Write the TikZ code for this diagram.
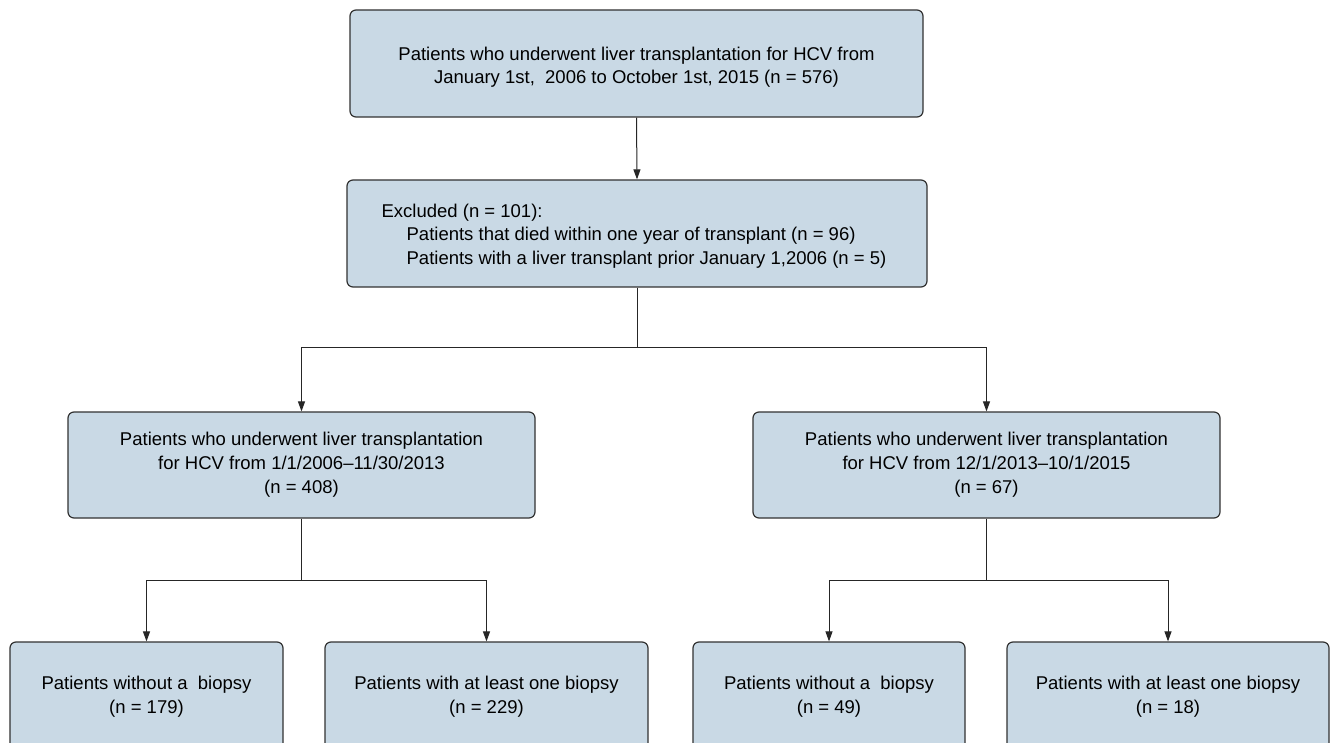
\documentclass[tikz,border=0pt]{standalone}
\usepackage{fontspec}
\setmainfont{Liberation Sans}
\usetikzlibrary{arrows.meta}
\definecolor{boxfill}{RGB}{201,217,229}
\definecolor{boxline}{RGB}{50,50,50}
\begin{document}
\begin{tikzpicture}[x=1pt,y=-1pt,
  box/.style={draw=boxline, fill=boxfill, rounded corners=6pt, line width=1.2pt,
    align=center, inner sep=0pt, font=\fontsize{18.5}{24}\selectfont},
  txt/.style={align=center, inner sep=0pt, font=\fontsize{18.5}{23.5}\selectfont},
  arr/.style={-{Triangle[length=10pt,width=7pt]}, line width=1pt, draw=black!85},
  conn/.style={line width=1pt, draw=black!85}]
\useasboundingbox (0,0) rectangle (1331,743);
\clip (0,0) rectangle (1331,743);
\fill[white] (0,0) rectangle (1331,743);

\node[box, minimum width=573pt, minimum height=107pt] (top) at (636.5,63.5) {};
\node[txt] (toptxt) at (636.5,67)
  {Patients who underwent liver transplantation for HCV from\\January 1st,\ \ 2006 to October 1st, 2015 (n = 576)};

\node[box, minimum width=580pt, minimum height=107pt] (excl) at (637,233.5) {};
\node[txt, align=left] (excltxt) at (634,236)
  {Excluded (n = 101):\\
   \hspace*{25pt}Patients that died within one year of transplant (n = 96)\\
   \hspace*{25pt}Patients with a liver transplant prior January 1,2006 (n = 5)};

\node[box, minimum width=467pt, minimum height=106pt] (midL) at (301.5,465)
  {Patients who underwent liver transplantation\\for HCV from 1/1/2006--11/30/2013\\(n = 408)};
\node[box, minimum width=467pt, minimum height=106pt] (midR) at (986.5,465)
  {Patients who underwent liver transplantation\\for HCV from 12/1/2013--10/1/2015\\(n = 67)};

\node[box, minimum width=273pt, minimum height=110pt] (b1) at (146.5,697)
  {Patients without a\ \ biopsy\\(n = 179)};
\node[box, minimum width=323pt, minimum height=110pt] (b2) at (486.5,697)
  {Patients with at least one biopsy\\(n = 229)};
\node[box, minimum width=272pt, minimum height=110pt] (b3) at (829,697)
  {Patients without a\ \ biopsy\\(n = 49)};
\node[box, minimum width=322pt, minimum height=110pt] (b4) at (1168,697)
  {Patients with at least one biopsy\\(n = 18)};

\coordinate (j1) at (637,348);
\coordinate (j2) at (301.5,580);
\coordinate (j3) at (986.5,580);

\draw[arr] (top.south) -- (excl.north);
\draw[conn] (excl.south) -- (j1);
\draw[arr] (j1) -| (midL.north);
\draw[arr] (j1) -| (midR.north);
\draw[conn] (midL.south) -- (j2);
\draw[arr] (j2) -| (b1.north);
\draw[arr] (j2) -| (b2.north);
\draw[conn] (midR.south) -- (j3);
\draw[arr] (j3) -| (b3.north);
\draw[arr] (j3) -| (b4.north);
\end{tikzpicture}
\end{document}
